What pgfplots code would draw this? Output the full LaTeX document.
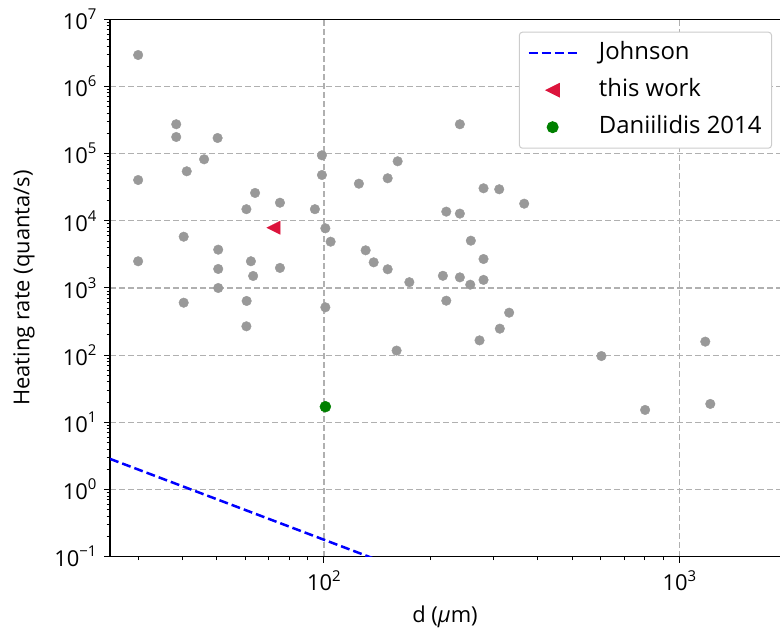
\documentclass[border=0pt]{standalone}
\usepackage{fontspec}
\setmainfont{Open Sans}
\usepackage{pgfplots}
\usepackage{pgfplotstable}
\pgfplotsset{compat=1.18}
\definecolor{ptgray}{RGB}{153,153,153}
\definecolor{crimson}{RGB}{220,20,60}
\definecolor{mgreen}{RGB}{0,128,0}
\definecolor{gridgray}{RGB}{176,176,176}
\definecolor{leggray}{RGB}{204,204,204}
\newcommand{\pw}[1]{10\raisebox{0.45em}{\fontsize{15}{15}\selectfont #1}}
\pgfdeclareplotmark{trileft}{%
  \pgfpathmoveto{\pgfqpoint{-\pgfplotmarksize}{0pt}}%
  \pgfpathlineto{\pgfqpoint{\pgfplotmarksize}{\pgfplotmarksize}}%
  \pgfpathlineto{\pgfqpoint{\pgfplotmarksize}{-\pgfplotmarksize}}%
  \pgfpathclose\pgfusepathqfillstroke}
\pgfplotstableread{
d rate
30 2.94e6
30 4.05e4
30 2500
38.4 2.74e5
38.4 1.77e5
40.3 5800
40.3 604
41.1 5.46e4
46.0 8.24e4
50.2 1.71e5
50.4 3720
50.4 1920
50.4 1000
60.5 1.49e4
60.6 641
60.5 269
62.3 2500
63.2 1510
64.0 2.6e4
75.2 1.86e4
75.2 1990
94.3 1.49e4
98.7 9.45e4
98.7 4.81e4
100.9 7740
100.9 516
104.4 4890
125.4 3.57e4
131.0 3640
138 2410
151.1 4.3e4
151.1 1900
161.2 7.7e4
160.1 117
173.9 1220
216.1 1520
220.9 1.37e4
220.9 647
241.2 1440
241.2 1.28e4
241.2 2.74e5
259 5060
258 1120
274 166
281.2 3.05e4
281.2 2700
281.2 1320
311.3 2.95e4
312.5 248
332 429
366 1.8e4
603.5 97
801 15.3
1183 159
1222 18.8
}\others
\begin{document}
\fontsize{22}{26}\selectfont
\begin{tikzpicture}
\begin{axis}[
  scale only axis, width=670bp, height=537.4bp,
  xmode=log, ymode=log,
  xmin=25, xmax=1920, ymin=0.1, ymax=1e7,
  axis x line*=box, axis y line*=left,
  axis line style={line width=1.4bp},
  xtick pos=left, ytick pos=left,
  tick align=outside,
  major tick length=6bp, minor tick length=3.5bp,
  every tick/.style={black, line width=1bp},
  xtick={100,1000}, xticklabels={\pw{2},\pw{3}},
  minor xtick={30,40,50,60,70,80,90,200,300,400,500,600,700,800,900},
  ytick={0.1,1,10,100,1000,10000,100000,1000000,10000000},
  yticklabels={\pw{−1},\pw{0},\pw{1},\pw{2},\pw{3},\pw{4},\pw{5},\pw{6},\pw{7}},
  minor ytick={0.2,0.3,0.4,0.5,0.6,0.7,0.8,0.9,2,3,4,5,6,7,8,9,20,30,40,50,60,70,80,90,200,300,400,500,600,700,800,900,2000,3000,4000,5000,6000,7000,8000,9000,2e4,3e4,4e4,5e4,6e4,7e4,8e4,9e4,2e5,3e5,4e5,5e5,6e5,7e5,8e5,9e5,2e6,3e6,4e6,5e6,6e6,7e6,8e6,9e6},
  grid=major,
  major grid style={gridgray, line width=1.3bp, dash pattern=on 6bp off 3bp},
  xlabel={d (\textit{μ}m)},
  ylabel={Heating rate (quanta/s)},
  ylabel shift=5bp,
  legend cell align=left,
  legend image code/.code={\draw[mark repeat=2,mark phase=2,#1] plot coordinates {(0bp,0bp) (24bp,0bp) (48bp,0bp)};},
  legend style={at={(1,1)}, anchor=north east, xshift=-8bp, yshift=-12.4bp,
    draw=leggray, line width=1bp, rounded corners=3bp, fill=white,
    row sep=11bp, inner xsep=8bp, inner ysep=8bp,
    nodes={inner sep=2bp, text height=17bp, text depth=5bp},
    /tikz/every odd column/.append style={column sep=19bp},
    font=\fontsize{24}{28}\selectfont},
]
\addplot[only marks, mark=*, mark size=4.8bp, color=ptgray, forget plot] table[x=d, y=rate] {\others};
\addplot[blue, line width=2.5bp, dash pattern=on 9bp off 4bp] coordinates {(25,2.86) (140,0.0913)};
\addlegendentry{Johnson}
\addplot[only marks, mark=trileft, mark size=6.6bp, color=crimson] coordinates {(72.1,7900)};
\addlegendentry{this work}
\addplot[only marks, mark=*, mark size=5.5bp, color=mgreen] coordinates {(100.9,17.1)};
\addlegendentry{Daniilidis 2014}
\end{axis}
\pgfresetboundingbox
\useasboundingbox ([shift={(-110bp,-72.3bp)}]current axis.south west) rectangle ([shift={(0bp,19.3bp)}]current axis.north east);
\end{tikzpicture}
\end{document}
